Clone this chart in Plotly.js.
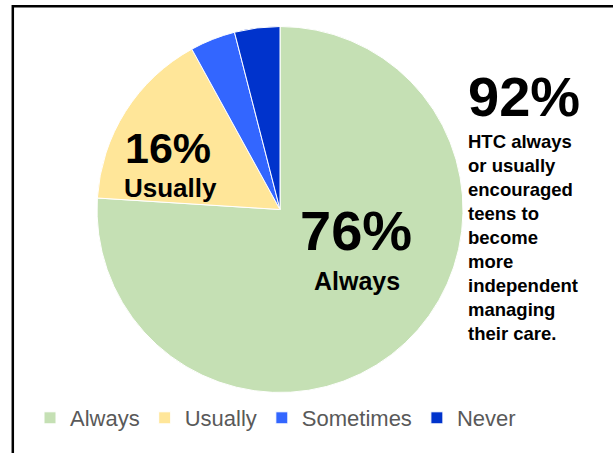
<!DOCTYPE html>
<html>
<head>
<meta charset="utf-8">
<script src="https://cdn.plot.ly/plotly-3.0.1.min.js"></script>
<style>html,body{margin:0;padding:0;background:#fff;}#chart{width:613px;height:453px;}</style>
</head>
<body>
<div id="chart"></div>
<script>
const categories = ["Always", "Usually", "Sometimes", "Never"];
const percentValues = [76, 16, 4, 4];
const sliceColors = ["#C5E0B4", "#FFE699", "#3366FF", "#0033CC"];
const headlineValue = 92;
const headlineLines = ["HTC always", "or usually", "encouraged", "teens to", "become", "more", "independent", "managing", "their care."];

const W = 613, H = 453;
const px = x => x / W;
const py = y => 1 - y / H;
const FONT = "Liberation Sans, Arial, sans-serif";

const cx = 280, cy = 209.5, r = 183;

const trace = {
  type: "pie",
  labels: categories,
  values: percentValues,
  sort: false,
  direction: "clockwise",
  rotation: 0,
  textinfo: "none",
  hoverinfo: "label+percent",
  marker: { colors: sliceColors, line: { color: "#ffffff", width: 1 } },
  domain: { x: [px(cx - r), px(cx + r)], y: [py(cy + r), py(cy - r)] },
  showlegend: true
};

const annotations = [
  { x: px(356), y: py(230), text: percentValues[0] + "%", font: { size: 56, color: "#000", family: FONT, weight: "bold" } },
  { x: px(356.5), y: py(281), text: categories[0], font: { size: 25, color: "#000", family: FONT, weight: "bold" } },
  { x: px(168), y: py(148), text: percentValues[1] + "%", font: { size: 43, color: "#000", family: FONT, weight: "bold" } },
  { x: px(170.5), y: py(188), text: categories[1], font: { size: 26, color: "#000", family: FONT, weight: "bold" } },
  { x: px(467), y: py(97), xanchor: "left", text: headlineValue + "%", font: { size: 56, color: "#000", family: FONT, weight: "bold" } },
  { x: px(467), y: py(237.5), xanchor: "left", align: "left", text: headlineLines.join("<br>"), font: { size: 18.5, color: "#000", family: FONT, weight: "bold" } }
].map(a => Object.assign({ xref: "paper", yref: "paper", showarrow: false, xanchor: a.xanchor || "center", yanchor: "middle", borderpad: 0 }, a));

const layout = {
  width: W, height: H,
  margin: { l: 0, r: 0, t: 0, b: 0 },
  paper_bgcolor: "#ffffff",
  plot_bgcolor: "#ffffff",
  font: { family: FONT },
  showlegend: true,
  legend: {
    orientation: "h",
    x: px(30), y: py(418), xanchor: "left", yanchor: "middle",
    itemwidth: 30,
    font: { size: 22, color: "#595959", family: FONT },
    bgcolor: "rgba(0,0,0,0)",
    traceorder: "normal"
  },
  annotations: annotations,
  shapes: [
    { type: "rect", xref: "paper", yref: "paper", x0: px(12.8), x1: px(640), y0: py(6.3), y1: py(480), line: { color: "#000", width: 2.5 }, fillcolor: "rgba(0,0,0,0)" }
  ]
};

Plotly.newPlot("chart", [trace], layout, { displayModeBar: false, staticPlot: true });
</script>
</body>
</html>
